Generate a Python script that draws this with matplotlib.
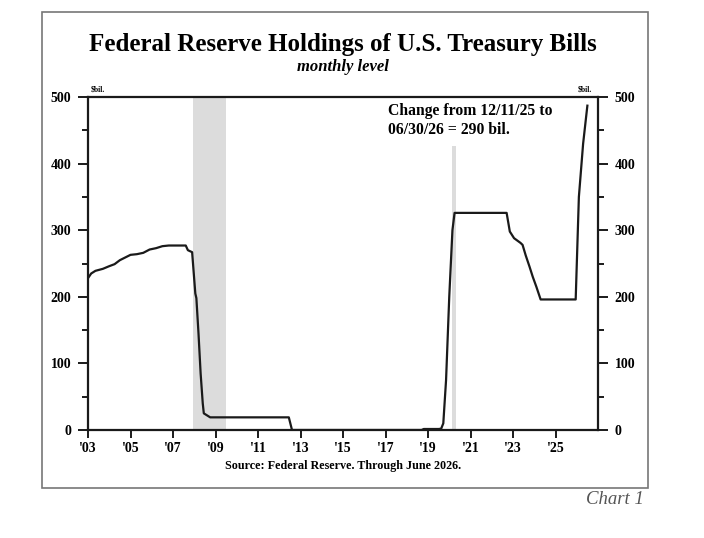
### Federal Reserve holdings of U.S. Treasury bills, monthly level

import matplotlib
matplotlib.use('Agg')
import matplotlib.pyplot as pp
from matplotlib.patches import Rectangle
from matplotlib.ticker import MultipleLocator, FuncFormatter

### Data, $bil.
years = [2003.0, 2003.15, 2003.35, 2003.7, 2004.0, 2004.25, 2004.5, 2004.75,
         2005.0, 2005.3, 2005.6, 2005.9, 2006.2, 2006.5, 2006.8, 2007.2,
         2007.6, 2007.7, 2007.9, 2008.05, 2008.1, 2008.2, 2008.3, 2008.4,
         2008.45, 2008.6, 2008.75, 2012.45, 2012.6, 2018.7, 2018.8, 2019.5,
         2019.62, 2019.72, 2019.85, 2020.0, 2020.15, 2020.25, 2022.7, 2022.85,
         2023.05, 2023.35, 2023.45, 2023.6, 2023.78, 2023.93, 2024.1, 2024.3,
         2025.95, 2026.1, 2026.3, 2026.5]
holdings = [228, 235, 239, 242, 246, 249, 255, 259,
            263, 264, 266, 271, 273, 276, 277, 277,
            277, 270, 267, 205, 198, 145, 85, 40,
            25, 22, 19, 19, 0, 0, 1.5, 1.5,
            2, 10, 75, 200, 300, 326, 326, 298,
            288, 281, 278, 262, 245, 230, 215, 196,
            196, 350, 430, 487]

# Recession periods
recessions = [(2007.92, 2009.5), (2020.12, 2020.33)]

xticks = list(range(2003, 2027, 2))
xlabels = [f"'{y % 100:02d}" for y in xticks]

note = 'Change from 12/11/25 to\n06/30/26 = 290 bil.'

### Fonts
pp.rcParams['font.family'] = ['Liberation Serif', 'DejaVu Serif']
pp.rcParams['font.weight'] = 'bold'

fig = pp.figure(figsize=(7.04, 5.38), dpi=100)
ax = fig.add_axes([88/704, 1-430/538, 510/704, 333/538])

for x0, x1 in recessions:
    ax.axvspan(x0, x1, color='#dcdcdc', lw=0, zorder=0)

ax.plot(years, holdings, color='#1a1a1a', lw=1.6, zorder=3)

ax.set_xlim(2003, 2027)
ax.set_ylim(0, 500)
ax.set_xticks(xticks)
ax.set_xticklabels(xlabels)
ax.yaxis.set_major_locator(MultipleLocator(100))
ax.yaxis.set_minor_locator(MultipleLocator(50))
ax.yaxis.set_major_formatter(FuncFormatter(lambda v, p: f'{v:.0f}'))

for s in ax.spines.values():
    s.set_linewidth(1.6)
    s.set_color('#1a1a1a')

ax.tick_params(axis='y', which='both', direction='out', left=True, right=True,
               labelleft=True, labelright=True, labelsize=10, width=1.4,
               color='#1a1a1a', pad=5)
ax.tick_params(axis='y', which='major', length=7)
ax.tick_params(axis='y', which='minor', length=4)
ax.tick_params(axis='x', direction='out', length=6, width=1.4, labelsize=10,
               color='#1a1a1a', pad=3)

for lab in ax.get_xticklabels() + ax.get_yticklabels():
    lab.set_fontweight('bold')

ax.text(0.02, 1.01, '$bil.', transform=ax.transAxes, fontsize=5.5,
        ha='center', va='bottom', fontweight='bold')
ax.text(0.975, 1.01, '$bil.', transform=ax.transAxes, fontsize=5.5,
        ha='center', va='bottom', fontweight='bold')

# white box sits above the recession shading but below the spines
ax.text(2017.1, 491, note, fontsize=11.3, fontweight='bold', ha='left', va='top',
        linespacing=1.25, zorder=2,
        bbox=dict(facecolor='white', edgecolor='none', pad=6))

### Titles and footer
fig.text(343/704, 1-44/538, 'Federal Reserve Holdings of U.S. Treasury Bills',
         fontsize=18, fontweight='bold', ha='center', va='center')
fig.text(343/704, 1-67/538, 'monthly level', fontsize=12, fontweight='bold',
         style='italic', ha='center', va='center')
fig.text(343/704, 1-466/538, 'Source: Federal Reserve. Through June 2026.',
         fontsize=8.7, fontweight='bold', ha='center', va='center')
fig.text(615/704, 1-500/538, 'Chart 1', fontsize=13.5, fontweight='normal',
         style='italic', color='#555555', ha='center', va='center')

# Outer frame
fig.patches.append(Rectangle((42/704, 1-488/538), 606/704, 476/538,
                             transform=fig.transFigure, fill=False,
                             edgecolor='#777777', lw=1.2))

pp.savefig('out.png', dpi=100)
pp.close()
